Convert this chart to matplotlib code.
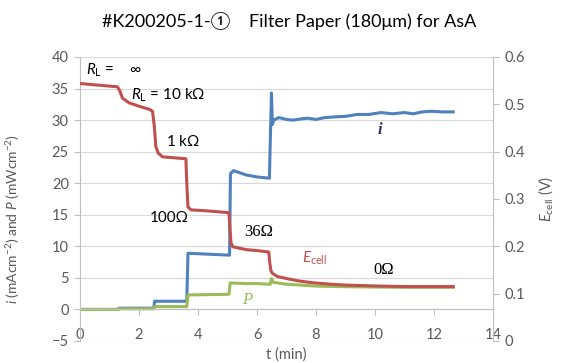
import matplotlib
matplotlib.use("Agg")
from matplotlib import pyplot as plt
import numpy as np

# ---- data ----
title = "#K200205-1-\u2460    Filter Paper (180\u03bcm) for AsA"

t_i = [0, 1.3, 1.32, 2.5, 2.53, 3.62, 3.66, 5.07, 5.1, 5.2, 5.64, 6.0, 6.4, 6.42,
       6.49, 6.52, 6.57, 6.65, 6.75, 7.0, 7.22, 7.5, 7.73, 8.0, 8.3, 8.6, 9.0, 9.4,
       9.8, 10.2, 10.6, 11.0, 11.3, 11.6, 11.9, 12.3, 12.65]
i_vals = [0, 0, 0.2, 0.2, 1.3, 1.3, 8.9, 8.6, 21.5, 22.0, 21.3, 21.0, 20.8, 20.8,
          34.3, 29.3, 30.0, 30.2, 30.4, 30.1, 30.0, 30.2, 30.3, 30.1, 30.4, 30.5,
          30.6, 30.9, 30.9, 31.2, 31.0, 31.2, 31.0, 31.3, 31.4, 31.3, 31.3]

t_p = [0, 1.3, 1.33, 2.5, 2.53, 3.62, 3.66, 4.3, 5.05, 5.09, 5.6, 6.0, 6.4, 6.45,
       6.49, 6.55, 6.7, 7.0, 7.34, 8.0, 9.04, 10.0, 11.0, 12.0, 12.65]
p_vals = [0, 0, 0.1, 0.1, 0.45, 0.45, 2.3, 2.35, 2.4, 4.2, 4.1, 4.1, 4.0, 4.0,
          4.9, 4.3, 4.2, 4.0, 3.9, 3.7, 3.6, 3.55, 3.5, 3.5, 3.5]

t_e = [0, 1.27, 1.35, 1.44, 1.67, 2.0, 2.37, 2.46, 2.52, 2.57, 2.65, 2.8, 3.2, 3.59,
       3.62, 3.66, 3.77, 4.3, 5.05, 5.08, 5.12, 5.18, 5.64, 6.0, 6.4, 6.43, 6.47,
       6.52, 6.7, 7.0, 7.4, 7.9, 8.5, 9.04, 10.2, 11.0, 11.9, 12.65]
e_vals = [0.544, 0.537, 0.528, 0.513, 0.503, 0.496, 0.489, 0.485, 0.453, 0.411,
          0.397, 0.389, 0.387, 0.385, 0.333, 0.283, 0.277, 0.275, 0.271, 0.240,
          0.207, 0.199, 0.193, 0.191, 0.188, 0.167, 0.149, 0.143, 0.136, 0.132,
          0.127, 0.123, 0.120, 0.118, 0.116, 0.115, 0.115, 0.115]

x_ticks = [0, 2, 4, 6, 8, 10, 12, 14]
left_ticks = [-5, 0, 5, 10, 15, 20, 25, 30, 35, 40]
right_ticks = [0, 0.1, 0.2, 0.3, 0.4, 0.5, 0.6]
right_labels = ["0", "0.1", "0.2", "0.3", "0.4", "0.5", "0.6"]

# ---- style ----
plt.rcParams['font.family'] = ['Lato', 'DejaVu Sans']
plt.rcParams['mathtext.fontset'] = 'custom'
plt.rcParams['mathtext.rm'] = 'Lato'
plt.rcParams['mathtext.it'] = 'Lato:italic'
plt.rcParams['mathtext.bf'] = 'Lato:bold'

red = '#C0504D'
blue = '#4F81BD'
green = '#9BBB59'
grid = '#d9d9d9'
axis_c = '#bfbfbf'
txt = '#595959'

fig = plt.figure(figsize=(5.68, 3.63), dpi=100)
ax = fig.add_axes([80 / 568, 22 / 363, 413 / 568, 284 / 363])
ax2 = ax.twinx()

ax.plot(t_i, i_vals, color=blue, lw=2.2)
ax.plot(t_p, p_vals, color=green, lw=2.2)
ax2.plot(t_e, e_vals, color=red, lw=2.2)

ax.set_xlim(0, 14)
ax.set_ylim(-5, 40)
ax2.set_ylim(0, 0.6)
ax.set_xticks(x_ticks)
ax.set_yticks(left_ticks)
ax2.set_yticks(right_ticks)
ax2.set_yticklabels(right_labels)

ax.grid(axis='y', color=grid, lw=0.8)
ax.set_axisbelow(True)
for s in ['top', 'right']:
    ax.spines[s].set_visible(False)
for s in ['top', 'left', 'bottom']:
    ax2.spines[s].set_visible(False)
ax.spines['bottom'].set_position(('data', 0))
ax.spines['bottom'].set_color(axis_c)
ax.spines['left'].set_color(axis_c)
ax2.spines['right'].set_color(axis_c)

ax.tick_params(axis='x', direction='out', length=4, color=axis_c, pad=9.5,
               labelsize=10.5, labelcolor=txt)
ax.tick_params(axis='y', direction='out', length=4, color=axis_c, pad=4,
               labelsize=10.5, labelcolor=txt)
ax2.tick_params(axis='y', direction='out', length=4, color=axis_c, pad=4,
                labelsize=10.5, labelcolor=txt)

ax.set_xlabel('t (min)', fontsize=10.5, color=txt, labelpad=4)
ax.set_ylabel(r'$i$ (mAcm$^{-2}$) and $P$ (mWcm$^{-2}$)', fontsize=10,
              color=txt)
ax.yaxis.set_label_coords(-0.14, 0.43)
ax2.set_ylabel(r'$E_{\mathrm{cell}}$ (V)', fontsize=10.5, color=txt, labelpad=8)

fig.text(289 / 568, 1 - 21 / 363, title, ha='center', va='center', fontsize=13,
         family=['Lato', 'Noto Sans CJK JP', 'DejaVu Sans'], color='black')

# ---- annotations ----
kw = dict(fontsize=11, va='center', ha='left', color='black')
ax.text(0.2, 37.9, r'$R_{\mathrm{L}}$ =    $\infty$', **kw)
ax.text(1.73, 34.0, r'$R_{\mathrm{L}}$ = 10 k$\Omega$', **kw)
ax.text(2.93, 26.6, r'1 k$\Omega$', **kw)
ax.text(2.35, 14.5, '100\u03a9', **kw)
ax.text(5.58, 12.3, '36\u03a9', family='Liberation Serif', fontsize=12,
        va='center', ha='left')
ax.text(9.93, 6.2, '0\u03a9', family='Liberation Serif', fontsize=12,
        va='center', ha='left')
ax.text(7.52, 8.1, r'$E_{\mathrm{cell}}$', fontsize=11, va='center', ha='left',
        color=red)
ax.text(5.51, 1.5, 'P', family='Liberation Serif', style='italic', fontsize=12,
        va='center', ha='left', color=green)
ax.text(10.1, 28.4, 'i', family='Liberation Serif', style='italic',
        weight='bold', fontsize=12, va='center', ha='left', color='#33336b')

fig.savefig('out.png', dpi=100)
